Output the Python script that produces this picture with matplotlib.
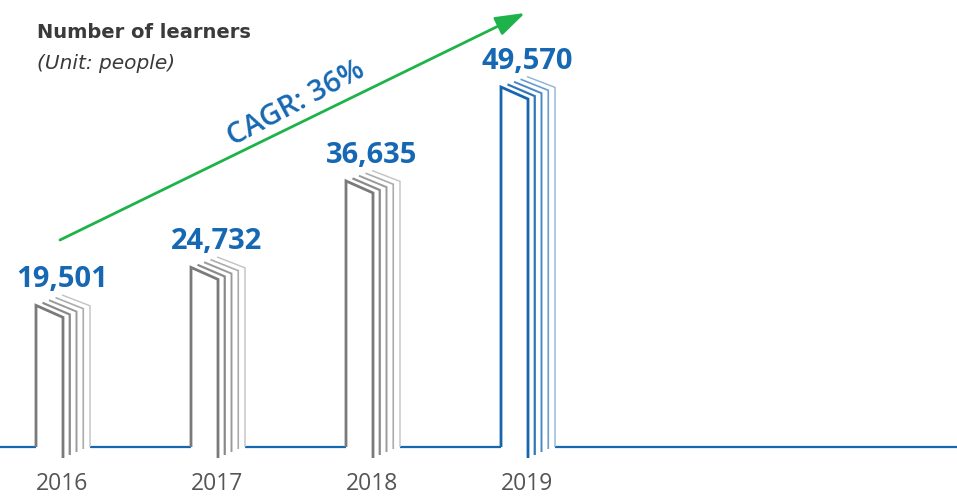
import matplotlib.pyplot as plt

years = ['2016', '2017', '2018', '2019']
learners = [19501, 24732, 36635, 49570]
value_labels = ['19,501', '24,732', '36,635', '49,570']
cagr_text = 'CAGR: 36%'

W, H = 957, 496
BASE_PX = 49          # baseline height above the bottom edge, px
SLOT_PX = 155         # px between year centres
FIRST_PX = 62         # centre of the first year, px
PX_PER_UNIT = 360 / 49570

BLUE = '#1668b3'
GREEN = '#1db34a'
GRAY_TXT = '#555555'

gray_pages = ['#7a7a7a', '#8a8a8a', '#9a9a9a', '#acacac', '#c2c2c2']
blue_pages = ['#1565b0', '#2d76ba', '#4a88c4', '#6a9dcf', '#8cb3da']
page_lw = [2.0, 1.6, 1.4, 1.2, 1.0]
page_drop = [11, 8, 5, 2, 0]   # how far each page's back edge dips below the baseline


def dx(px):
    return px / SLOT_PX


def dy(px):
    return px / PX_PER_UNIT


fig = plt.figure(figsize=(W / 100, H / 100), dpi=100)
ax = fig.add_axes([0, 0, 1, 1])
ax.set_xlim(-FIRST_PX / SLOT_PX, (W - FIRST_PX) / SLOT_PX)
ax.set_ylim(dy(-BASE_PX), dy(H - BASE_PX))
ax.axis('off')

font = 'Open Sans'
gaps = []
for i, (yr, v, lab) in enumerate(zip(years, learners, value_labels)):
    colors = blue_pages if yr == '2019' else gray_pages
    for k in range(5):
        x0 = i + dx(-26 + 6.5 * k)
        y0 = v + dy(2.6 * k)
        x1 = i + dx(1 + 6.75 * k)
        y1 = v + dy(-12 + 2.9 * k)
        xs = [x0, x1, x1]
        ys = [y0, y1, dy(-page_drop[k])]
        if k == 0:
            xs = [x0] + xs
            ys = [0] + ys
        ax.plot(xs, ys, color=colors[k], lw=page_lw[k],
                solid_joinstyle='miter', solid_capstyle='butt', zorder=3 - k * 0.1)
    gaps.append((i + dx(-26), i + dx(1 + 6.75 * 4)))

    ax.annotate(lab, (i, v), xytext=(0, 13), textcoords='offset points',
                ha='center', va='baseline', fontsize=21, fontweight='bold',
                color=BLUE, family=font)
    ax.annotate(yr, (i, 0), xytext=(0, -31), textcoords='offset points',
                ha='center', va='baseline', fontsize=16.5, color=GRAY_TXT, family=font)

# baseline broken by each bar
left = ax.get_xlim()[0]
for a, b in gaps:
    ax.plot([left, a], [0, 0], color=BLUE, lw=1.6, solid_capstyle='butt', zorder=2)
    left = b
ax.plot([left, ax.get_xlim()[1]], [0, 0], color=BLUE, lw=1.6, solid_capstyle='butt', zorder=2)

# growth arrow
ax.annotate('', xy=(525 / W, 1 - 13 / H), xytext=(60 / W, 1 - 240 / H),
            xycoords='axes fraction', textcoords='axes fraction',
            arrowprops=dict(arrowstyle='-|>,head_length=0.9,head_width=0.3',
                            mutation_scale=20, color=GREEN, lw=2,
                            shrinkA=0, shrinkB=0))
ax.text(296 / W, 1 - 104 / H, cagr_text, transform=ax.transAxes,
        rotation=28, rotation_mode='anchor', ha='center', va='center',
        fontsize=21, fontweight='semibold', color=BLUE, family=font)

fig.text(37 / W, 1 - 38 / H, 'Number of learners', fontsize=14,
         fontweight='bold', color='#3a3a3a', family='DejaVu Sans', va='baseline')
fig.text(37 / W, 1 - 69 / H, '(Unit: people)', fontsize=14.5,
         style='italic', color='#3a3a3a', family='DejaVu Sans', va='baseline')

fig.savefig('out.png', dpi=100)
